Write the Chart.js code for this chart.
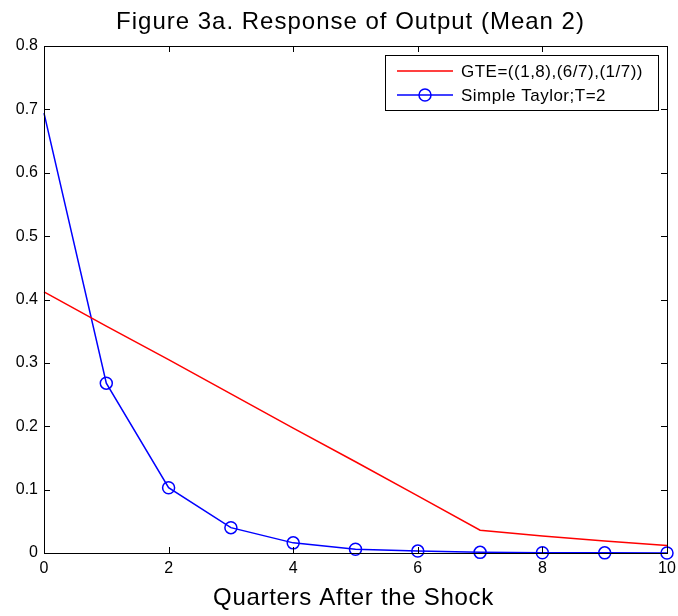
<!DOCTYPE html>
<html>
<head>
<meta charset="utf-8">
<script src="https://cdn.jsdelivr.net/npm/chart.js@4.4.1/dist/chart.umd.min.js"></script>
<style>
  html, body { margin: 0; padding: 0; background: #fff; }
  #wrap { width: 678px; height: 616px; }
</style>
</head>
<body>
<div id="wrap"><canvas id="grafico"></canvas></div>
<script>
// datos
const quarters = [0, 1, 2, 3, 4, 5, 6, 7, 8, 9, 10];
const gteValues = [0.412, 0.358, 0.305, 0.251, 0.197, 0.144, 0.090, 0.036, 0.027, 0.019, 0.012];
const taylorValues = [0.694, 0.268, 0.103, 0.040, 0.016, 0.006, 0.003, 0.001, 0.0005, 0.0002, 0.0001];
const xTicks = [0, 2, 4, 6, 8, 10];
const yTicks = [0, 0.1, 0.2, 0.3, 0.4, 0.5, 0.6, 0.7, 0.8];
const seriesNames = ['GTE=((1,8),(6/7),(1/7))', 'Simple Taylor;T=2'];
const chartTitle = 'Figure 3a. Response of Output (Mean 2)';
const xTitle = 'Quarters After the Shock';

const FONT = '"Liberation Sans", Arial, sans-serif';

// marco, ticks hacia adentro, titulos y leyenda
const marcoPlugin = {
    id: 'marco',
    afterDraw(chart) {
        const c = chart.ctx;
        const a = chart.chartArea;
        const xs = chart.scales.x, ys = chart.scales.y;
        c.save();
        c.strokeStyle = '#000';
        c.lineWidth = 1;
        c.strokeRect(Math.round(a.left) + 0.5, Math.round(a.top) + 0.5,
                     Math.round(a.right - a.left), Math.round(a.bottom - a.top));
        const len = 6;
        xTicks.forEach(v => {
            const px = Math.round(xs.getPixelForValue(v)) + 0.5;
            c.beginPath();
            c.moveTo(px, a.bottom); c.lineTo(px, a.bottom - len);
            c.moveTo(px, a.top); c.lineTo(px, a.top + len);
            c.stroke();
        });
        yTicks.forEach(v => {
            const py = Math.round(ys.getPixelForValue(v)) + 0.5;
            c.beginPath();
            c.moveTo(a.left, py); c.lineTo(a.left + len, py);
            c.moveTo(a.right, py); c.lineTo(a.right - len, py);
            c.stroke();
        });

        // titulo y titulo del eje x
        const cx = (a.left + a.right) / 2;
        c.fillStyle = '#000';
        c.textAlign = 'center';
        c.textBaseline = 'middle';
        c.font = '24px ' + FONT;
        c.letterSpacing = '1px';
        c.fillText(chartTitle, cx - 5, 22);
        c.letterSpacing = '0.7px';
        c.fillText(xTitle, cx - 2, 598);
        c.letterSpacing = '0px';

        // leyenda
        const lx = 385, ly = 55, lw = 273, lh = 55;
        c.fillStyle = '#fff';
        c.fillRect(lx, ly, lw, lh);
        c.strokeStyle = '#000';
        c.lineWidth = 1;
        c.strokeRect(lx + 0.5, ly + 0.5, lw, lh);
        const rows = [ly + 16, ly + 40];
        chart.data.datasets.forEach((ds, i) => {
            c.strokeStyle = ds.borderColor;
            c.lineWidth = 1.5;
            c.beginPath();
            c.moveTo(lx + 12, rows[i]); c.lineTo(lx + 68, rows[i]);
            c.stroke();
            if (i === 1) {
                c.beginPath();
                c.arc(lx + 40, rows[i], 6, 0, Math.PI * 2);
                c.stroke();
            }
            c.fillStyle = '#000';
            c.font = '17px ' + FONT;
            c.letterSpacing = '0.5px';
            c.textAlign = 'left';
            c.fillText(ds.label, lx + 76, rows[i] + 1);
            c.letterSpacing = '0px';
        });
        c.restore();
    }
};

const ctx = document.getElementById('grafico');
new Chart(ctx, {
    type: 'line',
    data: {
        datasets: [{
            label: seriesNames[0],
            data: quarters.map((q, i) => ({ x: q, y: gteValues[i] })),
            borderColor: '#ff0000',
            borderWidth: 1.5,
            pointRadius: 0,
            tension: 0
        }, {
            label: seriesNames[1],
            data: quarters.map((q, i) => ({ x: q, y: taylorValues[i] })),
            borderColor: '#0000ff',
            backgroundColor: 'rgba(0,0,0,0)',
            borderWidth: 1.5,
            pointRadius: quarters.map(q => q === 0 ? 0 : 6),
            pointBorderWidth: 1.5,
            pointStyle: 'circle',
            tension: 0
        }]
    },
    options: {
        responsive: true,
        maintainAspectRatio: false,
        animation: false,
        clip: false,
        layout: { padding: { left: 0, right: 11, top: 46, bottom: 0 } },
        plugins: {
            legend: { display: false },
            title: { display: false },
            tooltip: { enabled: false }
        },
        scales: {
            x: {
                type: 'linear',
                min: 0, max: 10,
                grid: { display: false, drawTicks: false },
                border: { display: false },
                afterBuildTicks: s => { s.ticks = xTicks.map(v => ({ value: v })); },
                afterFit: s => { s.height = 63; s.paddingLeft = 0; s.paddingRight = 0; },
                ticks: { color: '#000', font: { family: FONT, size: 16 }, padding: 6, maxRotation: 0 }
            },
            y: {
                min: 0, max: 0.8,
                grid: { display: false, drawTicks: false },
                border: { display: false },
                afterBuildTicks: s => { s.ticks = yTicks.map(v => ({ value: v })); },
                afterFit: s => { s.width = 44; },
                ticks: { color: '#000', font: { family: FONT, size: 16 }, padding: 6 }
            }
        }
    },
    plugins: [marcoPlugin]
});
</script>
</body>
</html>
